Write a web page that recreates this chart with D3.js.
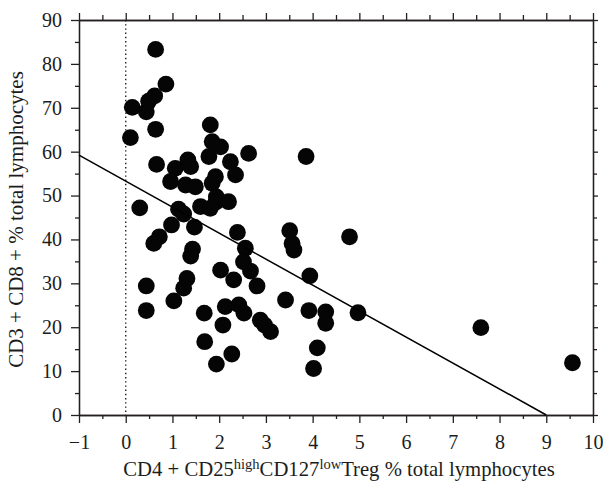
<!DOCTYPE html>
<html>
<head>
<meta charset="utf-8">
<script src="https://cdn.jsdelivr.net/npm/d3@7"></script>
<style>
  body { margin: 0; background: #fff; }
  text { font-family: "Liberation Serif", "Times New Roman", serif; fill: #1c1c1c; }
</style>
</head>
<body>
<div id="chart"></div>
<script>
// Treg % (x) and CD3+CD8+ % (y), one entry per patient
const tregPct = [
  0.64, 0.86, 0.62, 0.49, 0.14, 0.44, 0.64, 0.10, 0.66, 0.30,
  0.44, 0.44, 0.60, 0.72, 1.03, 1.06, 1.33, 1.39, 0.96, 1.28,
  1.49, 1.13, 1.24, 0.98, 1.47, 1.81, 1.85, 2.03, 1.78, 2.63,
  2.24, 2.35, 1.92, 1.85, 1.94, 1.93, 2.20, 1.60, 1.81, 3.86,
  3.51, 3.56, 3.60, 4.79, 2.39, 2.56, 2.52, 2.67, 2.03, 2.31,
  2.81, 1.43, 1.39, 1.31, 1.24, 3.94, 3.42, 2.13, 2.42, 2.53,
  2.08, 1.68, 2.88, 2.97, 3.10, 3.92, 4.28, 4.28, 4.97, 4.10,
  4.02, 1.69, 2.27, 1.94, 7.60, 9.56
];
const cd8Pct = [
  83.3, 75.4, 72.7, 71.5, 70.1, 69.1, 65.1, 63.2, 57.1, 47.2,
  29.4, 23.8, 39.1, 40.6, 26.0, 56.2, 58.1, 56.6, 53.2, 52.4,
  52.0, 46.9, 45.8, 43.3, 42.8, 66.1, 62.3, 61.1, 58.9, 59.6,
  57.7, 54.7, 54.3, 52.8, 49.7, 48.5, 48.6, 47.5, 47.1, 58.9,
  42.0, 39.1, 37.6, 40.6, 41.6, 38.0, 34.9, 32.8, 33.0, 30.8,
  29.4, 37.8, 36.2, 31.1, 28.9, 31.7, 26.2, 24.7, 25.1, 23.2,
  20.5, 23.2, 21.6, 20.5, 19.0, 23.8, 23.5, 20.9, 23.3, 15.3,
  10.6, 16.7, 13.9, 11.6, 19.9, 11.9
];

const xTicks = [-1, 0, 1, 2, 3, 4, 5, 6, 7, 8, 9, 10];
const xMinorTicks = [-0.5, 0.5, 1.5, 2.5, 3.5, 4.5, 5.5, 6.5, 7.5, 8.5, 9.5];
const yTicks = [0, 10, 20, 30, 40, 50, 60, 70, 80, 90];
const yMinorTicks = [5, 15, 25, 35, 45, 55, 65, 75, 85];

// regression line end points
const fitX = [-1, 9];
const fitY = [59.2, 0];

const drawChart = () => {
  const margin = { top: 20, right: 10, bottom: 70, left: 79 };
  const width = 603 - margin.left - margin.right;
  const height = 485 - margin.top - margin.bottom;

  const svg = d3.select("#chart")
    .append("svg")
    .attr("width", width + margin.left + margin.right)
    .attr("height", height + margin.top + margin.bottom)
    .append("g")
    .attr("transform", "translate(" + margin.left + "," + margin.top + ")");

  const x = d3.scaleLinear().domain([-1, 10]).range([0, width]);
  const y = d3.scaleLinear().domain([0, 90]).range([height, 0]);

  const styleAxis = g => {
    g.select(".domain").attr("stroke", "#231f20").attr("stroke-width", 1.3);
    g.selectAll(".tick line").attr("stroke", "#231f20").attr("stroke-width", 1.3);
    g.selectAll("text").attr("font-size", 20);
  };

  // minor ticks first, majors on top
  svg.append("g")
    .attr("transform", "translate(0," + height + ")")
    .call(d3.axisBottom(x).tickValues(xMinorTicks).tickFormat("").tickSize(4).tickSizeOuter(0))
    .call(styleAxis);
  svg.append("g")
    .attr("transform", "translate(0," + height + ")")
    .call(d3.axisBottom(x).tickValues(xTicks).tickSize(8).tickPadding(12).tickSizeOuter(0))
    .call(styleAxis);

  svg.append("g")
    .call(d3.axisTop(x).tickValues(xMinorTicks).tickFormat("").tickSize(5).tickSizeOuter(0))
    .call(styleAxis);
  svg.append("g")
    .call(d3.axisTop(x).tickValues(xTicks).tickFormat("").tickSize(7).tickSizeOuter(0))
    .call(styleAxis);

  svg.append("g")
    .call(d3.axisLeft(y).tickValues(yMinorTicks).tickFormat("").tickSize(4).tickSizeOuter(0))
    .call(styleAxis);
  svg.append("g")
    .call(d3.axisLeft(y).tickValues(yTicks).tickSize(8).tickPadding(9).tickSizeOuter(0))
    .call(styleAxis);

  svg.append("g")
    .attr("transform", "translate(" + width + ",0)")
    .call(d3.axisRight(y).tickValues(yMinorTicks).tickFormat("").tickSize(4).tickSizeOuter(0))
    .call(styleAxis);
  svg.append("g")
    .attr("transform", "translate(" + width + ",0)")
    .call(d3.axisRight(y).tickValues(yTicks).tickFormat("").tickSize(5).tickSizeOuter(0))
    .call(styleAxis);

  // dotted reference line at x = 0
  svg.append("line")
    .attr("x1", x(0)).attr("x2", x(0))
    .attr("y1", y(90)).attr("y2", y(0))
    .attr("stroke", "#231f20")
    .attr("stroke-width", 1.4)
    .attr("stroke-dasharray", "1.4,2.8");

  // points
  const points = tregPct.map((v, i) => ({ treg: v, cd8: cd8Pct[i] }));
  svg.selectAll(".dot")
    .data(points)
    .enter()
    .append("circle")
    .attr("class", "dot")
    .attr("cx", d => x(d.treg))
    .attr("cy", d => y(d.cd8))
    .attr("r", 8.4)
    .attr("fill", "#050505");

  // regression line
  const line = d3.line().x(d => x(d[0])).y(d => y(d[1]));
  svg.append("path")
    .datum(fitX.map((v, i) => [v, fitY[i]]))
    .attr("d", line)
    .attr("fill", "none")
    .attr("stroke", "#000")
    .attr("stroke-width", 1.5);

  // axis titles
  const xTitle = svg.append("text")
    .attr("x", width / 2 + 3)
    .attr("y", height + 61)
    .attr("text-anchor", "middle")
    .attr("font-size", 20.7);
  xTitle.append("tspan").text("CD4 + CD25");
  xTitle.append("tspan").attr("dy", -7).attr("font-size", 14.5).text("high");
  xTitle.append("tspan").attr("dy", 7).text("CD127");
  xTitle.append("tspan").attr("dy", -7).attr("font-size", 14.5).text("low");
  xTitle.append("tspan").attr("dy", 7).text("Treg % total lymphocytes");

  svg.append("text")
    .attr("transform", "translate(" + (23 - margin.left) + "," + (height / 2 + 2) + ") rotate(-90)")
    .attr("text-anchor", "middle")
    .attr("font-size", 21)
    .text("CD3 + CD8 + % total lymphocytes");
};

drawChart();
</script>
</body>
</html>
